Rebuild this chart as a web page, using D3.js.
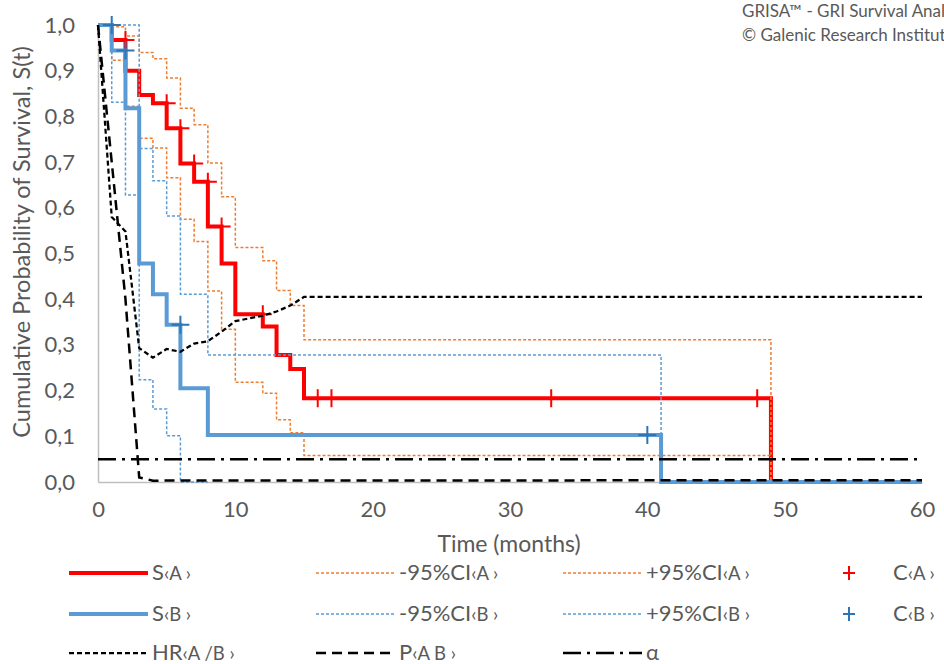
<!DOCTYPE html>
<html><head><meta charset="utf-8">
<script src="https://cdn.jsdelivr.net/npm/d3@7"></script>
<style>
body{margin:0;background:#fff}
svg{display:block}
text{font-family:Lato,"Open Sans",sans-serif;fill:#595959}
</style>
</head><body>
<svg id="chart" width="944" height="664"></svg>
<script>
// ---------- data ----------
const xTicks = [0, 10, 20, 30, 40, 50, 60];
const yTicks = [0, 0.1, 0.2, 0.3, 0.4, 0.5, 0.6, 0.7, 0.8, 0.9, 1.0];

const timesSA = [0, 1, 2, 3, 4, 5, 6, 7, 8, 9, 10, 12, 13, 14, 15, 49, 60];
const survA   = [1.0, 0.967, 0.900, 0.847, 0.829, 0.774, 0.697, 0.657, 0.559, 0.478, 0.367, 0.340, 0.278, 0.247, 0.183, 0, 0];
const timesCIA = [0, 1, 2, 3, 4, 5, 6, 7, 8, 9, 10, 12, 13, 14, 15, 49];
const lowerA  = [1.0, 0.923, 0.822, 0.752, 0.731, 0.666, 0.575, 0.526, 0.418, 0.334, 0.218, 0.194, 0.136, 0.108, 0.058, 0];
const upperA  = [1.0, 0.996, 0.976, 0.940, 0.926, 0.884, 0.818, 0.782, 0.698, 0.624, 0.513, 0.484, 0.419, 0.386, 0.311, 0];
const censorTimesA = [2, 5, 6, 7, 8, 9, 12, 16, 17, 33, 48];
const censorValsA  = [0.967, 0.829, 0.774, 0.697, 0.657, 0.559, 0.367, 0.183, 0.183, 0.183, 0.183];

const timesSB = [0, 1, 2, 3, 4, 5, 6, 8, 41, 60];
const survB   = [1.0, 0.944, 0.818, 0.478, 0.411, 0.344, 0.205, 0.103, 0, 0];
const timesLB = [0, 1, 2, 3, 4, 5, 6, 8];
const lowerB  = [1.0, 0.831, 0.628, 0.224, 0.160, 0.101, 0.0, 0.0];
const timesUB = [0, 3, 4, 5, 6, 8, 41];
const upperB  = [1.0, 0.730, 0.659, 0.582, 0.411, 0.278, 0];
const censorTimesB = [1, 2, 6, 40];
const censorValsB  = [1.0, 0.944, 0.344, 0.103];

const timesHR = [0, 1, 2, 3, 4, 5, 6, 7, 8, 9, 10, 12, 13, 14, 15, 60];
const hrAB    = [1.0, 0.58, 0.548, 0.293, 0.272, 0.291, 0.285, 0.303, 0.308, 0.329, 0.352, 0.364, 0.373, 0.386, 0.405, 0.405];
const timesP  = [0, 1, 2, 3, 4, 60];
const pAB     = [1.0, 0.70, 0.40, 0.010, 0.003, 0.004];
const timesAlpha = [0, 60];
const alphaVals  = [0.05, 0.05];

const creditLines = ["GRISA\u2122 - GRI Survival Analysis", "\u00A9 Galenic Research Institute"];

// ---------- setup ----------
const svg = d3.select("#chart");
const x = d3.scaleLinear().domain([0, 60]).range([98, 922]);
const y = d3.scaleLinear().domain([0, 1]).range([482, 25]);
const fmt = d3.formatLocale({decimal: ",", thousands: ".", grouping: [3], currency: ["", ""]}).format(".1f");

const zip = (ts, vs) => ts.map((t, i) => [t, vs[i]]);
const stepLine = d3.line().x(d => x(d[0])).y(d => y(d[1])).curve(d3.curveStepAfter);
const linLine = d3.line().x(d => x(d[0])).y(d => y(d[1]));

// axes
const yAxis = svg.append("g").attr("transform", "translate(98,0)")
  .call(d3.axisLeft(y).tickValues(yTicks).tickFormat(fmt).tickSize(0).tickSizeOuter(0).tickPadding(23));
const xAxis = svg.append("g").attr("transform", "translate(0,482)")
  .call(d3.axisBottom(x).tickValues(xTicks).tickSize(0).tickSizeOuter(0).tickPadding(19));
[yAxis, xAxis].forEach(g => {
  g.select(".domain").attr("stroke", "#BFBFBF").attr("stroke-width", 1.5);
  g.selectAll("text").style("font-size", "22px").attr("fill", "#595959").style("font-family", "Lato");
});

svg.append("text").attr("x", 509).attr("y", 552).attr("text-anchor", "middle")
  .style("font-size", "23px").text("Time (months)");
svg.append("text").attr("transform", "translate(30,242) rotate(-90)").attr("text-anchor", "middle")
  .style("font-size", "23.5px").text("Cumulative Probability of Survival, S(t)");

// series styles
const ORANGE = "#ED7D31", BLUE = "#5B9BD5", DBLUE = "#2E75B6", RED = "#FF0000";
function path(data, gen, color, w, dash) {
  const p = svg.append("path").datum(data).attr("d", gen).attr("fill", "none")
    .attr("stroke", color).attr("stroke-width", w).attr("stroke-linejoin", "miter");
  if (dash) p.attr("stroke-dasharray", dash);
  return p;
}
function crosses(ts, vs, color, size) {
  svg.append("g").selectAll("path").data(zip(ts, vs)).join("path")
    .attr("d", d => {
      const cx = x(d[0]), cy = y(d[1]), h = size / 2;
      return `M${cx - h},${cy}H${cx + h}M${cx},${cy - h}V${cy + h}`;
    })
    .attr("stroke", color).attr("stroke-width", 2).attr("fill", "none");
}

path(zip(timesSA, survA), stepLine, RED, 4);
path(zip(timesCIA, lowerA), stepLine, ORANGE, 1.5, "3,2");
path(zip(timesCIA, upperA), stepLine, ORANGE, 1.5, "3,2");
crosses(censorTimesA, censorValsA, RED, 18);
path(zip(timesSB, survB), stepLine, BLUE, 4);
path(zip(timesLB, lowerB), stepLine, BLUE, 1.5, "3,2");
path(zip(timesUB, upperB), stepLine, BLUE, 1.5, "3,2");
crosses(censorTimesB, censorValsB, DBLUE, 18);
path(zip(timesHR, hrAB), linLine, "#000", 2.25, "5,3");
path(zip(timesP, pAB), linLine, "#000", 2.5, "10,6");
path(zip(timesAlpha, alphaVals), linLine, "#000", 2.5, "18,6,3,6");

// credits (clipped at the right edge, as in the original)
creditLines.forEach((t, i) => {
  svg.append("text").attr("x", 742).attr("y", 17 + i * 24).style("font-size", "17px").text(t);
});

// legend
const legendItems = [
  {row: 0, col: 0, base: "S", sub: "\u2039A \u203A", color: RED, w: 4},
  {row: 0, col: 1, base: "-95%CI", sub: "\u2039A \u203A", color: ORANGE, w: 1.5, dash: "3,2"},
  {row: 0, col: 2, base: "+95%CI", sub: "\u2039A \u203A", color: ORANGE, w: 1.5, dash: "3,2"},
  {row: 0, col: 3, base: "C", sub: "\u2039A \u203A", color: RED, marker: true},
  {row: 1, col: 0, base: "S", sub: "\u2039B \u203A", color: BLUE, w: 4},
  {row: 1, col: 1, base: "-95%CI", sub: "\u2039B \u203A", color: BLUE, w: 1.5, dash: "3,2"},
  {row: 1, col: 2, base: "+95%CI", sub: "\u2039B \u203A", color: BLUE, w: 1.5, dash: "3,2"},
  {row: 1, col: 3, base: "C", sub: "\u2039B \u203A", color: DBLUE, marker: true},
  {row: 2, col: 0, base: "HR", sub: "\u2039A /B \u203A", color: "#000", w: 2.25, dash: "5,3"},
  {row: 2, col: 1, base: "P", sub: "\u2039A B \u203A", color: "#000", w: 2.5, dash: "10,6"},
  {row: 2, col: 2, base: "\u03B1", sub: "", color: "#000", w: 2.5, dash: "18,6,3,6"}
];
const colX = [69, 316, 563, 820];
const rowY = [573, 614, 653];
legendItems.forEach(it => {
  const lx = colX[it.col], ly = rowY[it.row];
  let tx;
  if (it.marker) {
    const cx = 849;
    svg.append("path").attr("d", `M${cx - 6},${ly}H${cx + 6}M${cx},${ly - 7}V${ly + 7}`)
      .attr("stroke", it.color).attr("stroke-width", 2);
    tx = 893;
  } else {
    const l = svg.append("line").attr("x1", lx).attr("x2", lx + 79).attr("y1", ly).attr("y2", ly)
      .attr("stroke", it.color).attr("stroke-width", it.w);
    if (it.dash) l.attr("stroke-dasharray", it.dash);
    tx = lx + 83;
  }
  const t = svg.append("text").attr("x", tx).attr("y", ly + 7).style("font-size", "22px");
  t.append("tspan").text(it.base);
  if (it.sub) t.append("tspan").style("font-size", "18.5px").text(it.sub);
});
</script>
</body></html>
